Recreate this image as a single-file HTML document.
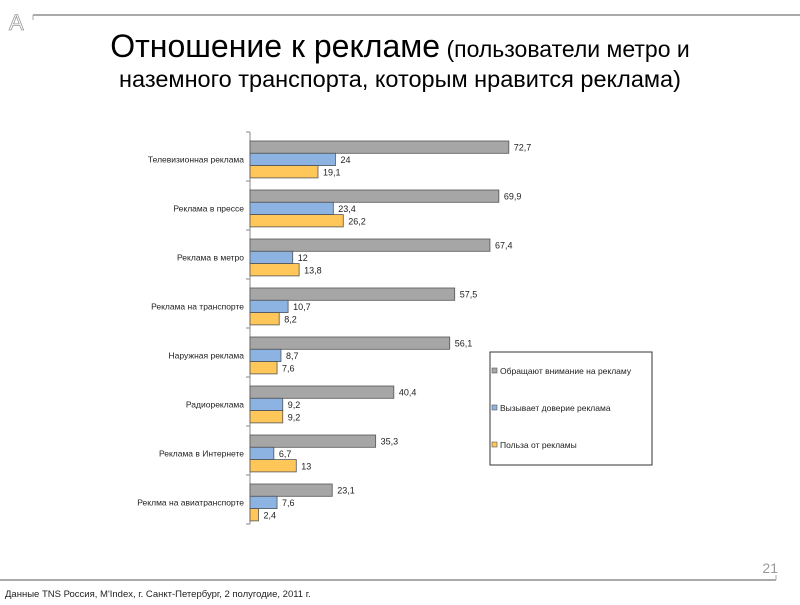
<!DOCTYPE html>
<html><head><meta charset="utf-8"><style>
body{margin:0;background:#fff;width:800px;height:600px;overflow:hidden;font-family:"Liberation Sans",sans-serif}
</style></head><body>
<svg width="800" height="600" xmlns="http://www.w3.org/2000/svg">
<g>
<text x="9" y="30" font-size="22" fill="none" stroke="#999" stroke-width="0.8" font-family="Liberation Sans">A</text>
</g>
<line x1="33" y1="15" x2="800" y2="15" stroke="#aaa" stroke-width="2"/>
<line x1="33" y1="15" x2="33" y2="20" stroke="#aaa" stroke-width="1"/>
<text x="400" y="57" text-anchor="middle" font-family="Liberation Sans, sans-serif"><tspan font-size="32">Отношение к рекламе</tspan><tspan font-size="23"> (пользователи метро и</tspan></text>
<text x="400" y="87" text-anchor="middle" font-size="23.5" font-family="Liberation Sans, sans-serif">наземного транспорта, которым нравится реклама)</text>
<g id="chart"></g>
<g>
<rect x="490" y="352" width="162" height="113" fill="#fff" stroke="#333" stroke-width="1"/>
<rect x="492" y="368" width="5" height="5" fill="#a6a6a6" stroke="#555" stroke-width="0.6"/>
<text x="500" y="374" font-size="8.5" fill="#222">Обращают внимание на рекламу</text>
<rect x="492" y="405" width="5" height="5" fill="#8db3e2" stroke="#555" stroke-width="0.6"/>
<text x="500" y="411" font-size="8.5" fill="#222">Вызывает доверие реклама</text>
<rect x="492" y="442" width="5" height="5" fill="#ffc65a" stroke="#555" stroke-width="0.6"/>
<text x="500" y="448" font-size="8.5" fill="#222">Польза от рекламы</text>
</g>
<text x="778" y="573" text-anchor="end" font-size="14" fill="#999">21</text>
<line x1="0" y1="580" x2="776" y2="580" stroke="#aaa" stroke-width="2"/>
<line x1="776" y1="575" x2="776" y2="580" stroke="#aaa" stroke-width="1"/>
<text x="5" y="597" font-size="9.5" fill="#222">Данные TNS Россия, M'Index, г. Санкт-Петербург, 2 полугодие, 2011 г.</text>
</svg>
<script>
const categories=["Телевизионная реклама","Реклама в прессе","Реклама в метро","Реклама на транспорте","Наружная реклама","Радиореклама","Реклама в Интернете","Реклма на авиатранспорте"];
const attention=[72.7,69.9,67.4,57.5,56.1,40.4,35.3,23.1];
const trust=[24,23.4,12,10.7,8.7,9.2,6.7,7.6];
const benefit=[19.1,26.2,13.8,8.2,7.6,9.2,13,2.4];
const NS="http://www.w3.org/2000/svg";
const chartG=document.getElementById('chart');
const X0=250,Y0=132,PITCH=49,SCALE=3.56,BH=12.3;
const xs=v=>X0+v*SCALE;
const series=[[attention,"#a6a6a6"],[trust,"#8db3e2"],[benefit,"#ffc65a"]];
function el(t,a){const e=document.createElementNS(NS,t);for(const k in a)e.setAttribute(k,a[k]);chartG.appendChild(e);return e;}
let ax=el('line',{x1:X0,y1:Y0,x2:X0,y2:Y0+PITCH*categories.length,stroke:'#888'});


for(let i=0;i<=categories.length;i++){
 let t=el('line',{x1:X0-4,y1:Y0+i*PITCH,x2:X0,y2:Y0+i*PITCH,stroke:'#888'});
 
 
}
categories.forEach((c,i)=>{
 const gy=Y0+i*PITCH+9;
 let lb=el('text',{x:X0-6,y:gy+BH*1.5+3,'text-anchor':'end','font-size':'8.5',fill:'#222'});
 lb.textContent=c;
 
 
 series.forEach(([arr,col],s)=>{
  const y=gy+s*BH,v=arr[i];
  let r=el('rect',{x:X0,y:y,width:xs(v)-X0,height:BH,fill:col,stroke:'#555','stroke-width':0.8});
  
  
  let tx=el('text',{x:xs(v)+5,y:y+BH/2+3.5,'font-size':'9',fill:'#222'});
  tx.textContent=String(v).replace('.',',');
  
  
 });
});
</script>
</body></html>
